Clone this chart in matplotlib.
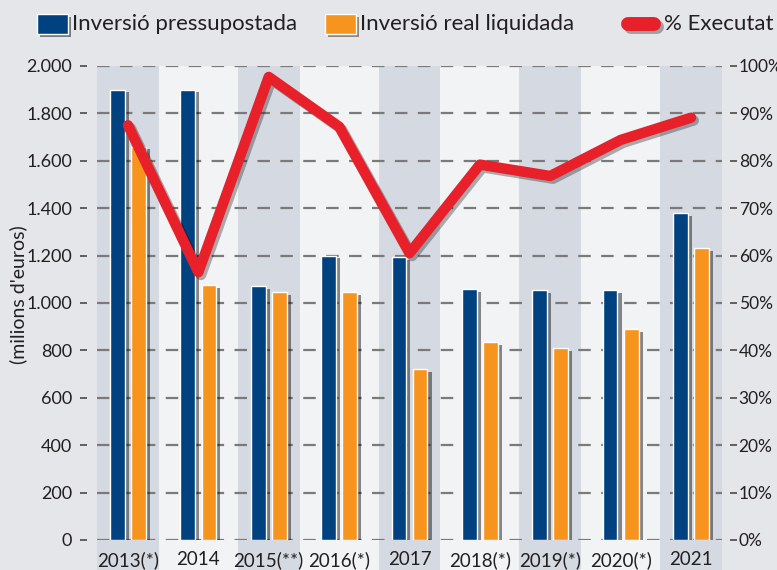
import matplotlib
matplotlib.use("Agg")
import matplotlib.pyplot as plt
from matplotlib.patches import Rectangle
from matplotlib.lines import Line2D
from matplotlib import patheffects as pe
import numpy as np

years = ["2013(*)", "2014", "2015(**)", "2016(*)", "2017", "2018(*)", "2019(*)", "2020(*)", "2021"]
pressupostada = [1900, 1900, 1070, 1200, 1195, 1060, 1055, 1055, 1380]
liquidada = [1660, 1075, 1045, 1045, 720, 835, 810, 890, 1230]
executat = [87.5, 56.5, 97.7, 87.2, 60.5, 79.2, 76.8, 84.4, 89.1]

BG = "#e4e6ea"
PLOT_BG = "#f2f3f5"
BAND = "#d5d9e1"
BLUE = "#00427f"
ORANGE = "#f7941d"
RED = "#e8202a"
TEXT = "#231f20"

plt.rcParams["font.family"] = ["Lato", "DejaVu Sans"]
plt.rcParams["lines.scale_dashes"] = False

fig = plt.figure(figsize=(7.77, 5.70), dpi=100, facecolor=BG)
ax = fig.add_axes([97 / 777, 30 / 570, 625 / 777, 474 / 570])
ax.set_facecolor("none")
x = np.arange(len(years))
ax.set_xlim(-0.44, len(years) - 0.56)
ax.set_ylim(0, 2000)

# background columns
trans = ax.get_xaxis_transform()
ax.add_patch(Rectangle((-0.44, -0.07), len(years) - 0.12, 1.07, transform=trans,
                       facecolor=PLOT_BG, edgecolor="none", clip_on=False, zorder=0))
for i in range(0, len(years), 2):
    ax.add_patch(Rectangle((i - 0.44, -0.07), 0.88, 1.07, transform=trans,
                           facecolor=BAND, edgecolor="none", clip_on=False, zorder=0.5))

# grid
ax.set_axisbelow(True)
ax.yaxis.grid(True, color="#7a7a7a", linewidth=1.6, linestyle=(0, (9, 7.5)))
ax.xaxis.grid(False)
for s in ax.spines.values():
    s.set_visible(False)

shadow = [pe.SimplePatchShadow(offset=(3, -2), shadow_rgbFace="black", alpha=0.45), pe.Normal()]
w = 0.21
ax.bar(x - 0.15, pressupostada, width=w, color=BLUE, edgecolor="white", linewidth=1.0,
       path_effects=shadow, zorder=2)
ax.bar(x + 0.15, liquidada, width=w, color=ORANGE, edgecolor="white", linewidth=1.0,
       path_effects=shadow, zorder=2)

ax.set_yticks(np.arange(0, 2001, 200))
ax.set_yticklabels([f"{v:,}".replace(",", ".") for v in range(0, 2001, 200)])
ax.set_xticks(x)
ax.set_xticklabels(years)
ax.tick_params(axis="x", length=0, pad=8, labelsize=13.5, labelcolor=TEXT)
ax.tick_params(axis="y", length=5, width=1.3, color="#555555", pad=6, labelsize=13, labelcolor=TEXT)
ax.spines["left"].set_position(("outward", 7))
fig.text(18 / 777, 1 - 295 / 570, "(milions d'euros)", fontsize=14, color=TEXT,
         rotation=90, ha="center", va="center")

ax2 = ax.twinx()
ax2.set_ylim(0, 100)
for s in ax2.spines.values():
    s.set_visible(False)
ax2.spines["right"].set_position(("outward", 6))
ax2.set_yticks(np.arange(0, 101, 10))
ax2.set_yticklabels([f"{v}%" for v in range(0, 101, 10)])
ax2.tick_params(axis="y", length=5, width=1.3, color="#555555", pad=1, labelsize=12.5, labelcolor=TEXT)
ax2.plot(x, executat, color=RED, linewidth=7.5, solid_capstyle="round", solid_joinstyle="round",
         path_effects=[pe.SimpleLineShadow(offset=(2, -2), shadow_color="black", alpha=0.3), pe.Normal()],
         zorder=5)

# legend
leg_y = 1 - 24 / 570
sq_h = 20 / 570
for x0, col in [(37, BLUE), (325, ORANGE)]:
    fig.add_artist(Rectangle((x0 / 777, leg_y - sq_h / 2), 31 / 777, sq_h, transform=fig.transFigure,
                             facecolor=col, edgecolor="white", linewidth=1,
                             path_effects=[pe.SimplePatchShadow(offset=(2, -2), alpha=0.5), pe.Normal()]))
fig.add_artist(Line2D([628 / 777, 654 / 777], [leg_y, leg_y], transform=fig.transFigure, color=RED,
                      linewidth=10, solid_capstyle="round",
                      path_effects=[pe.SimpleLineShadow(offset=(2, -2), alpha=0.3), pe.Normal()]))
fig.text(72 / 777, leg_y, "Inversió pressupostada", fontsize=16, color=TEXT, va="center", ha="left")
fig.text(360 / 777, leg_y, "Inversió real liquidada", fontsize=16, color=TEXT, va="center", ha="left")
fig.text(664 / 777, leg_y, "% Executat", fontsize=16, color=TEXT, va="center", ha="left")

fig.savefig("out.png", dpi=100, facecolor=BG)
